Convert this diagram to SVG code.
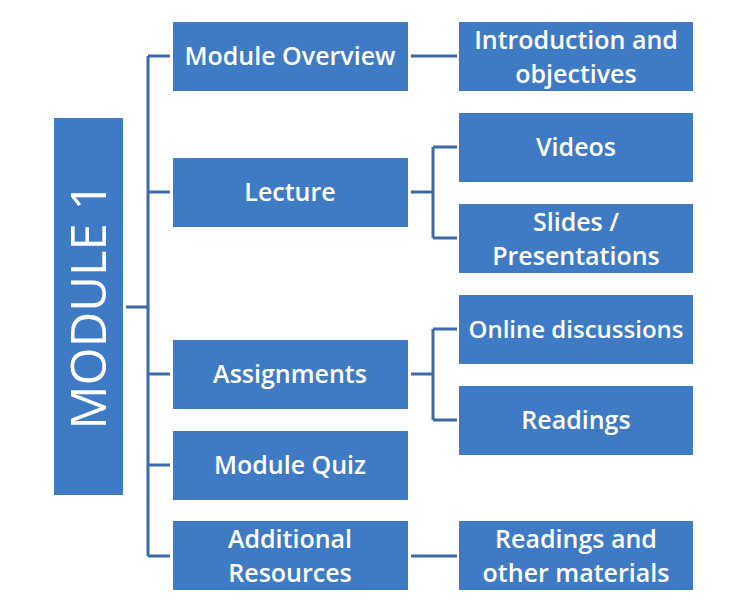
<svg xmlns="http://www.w3.org/2000/svg" width="734" height="612" viewBox="0 0 734 612">
<style>
.b{fill:#3F7BC4}
.t{fill:#fff;font-family:"Open Sans",sans-serif;font-size:25px;font-weight:600;text-anchor:middle}
.c{fill:none;stroke:#3B6AA6;stroke-width:3}
</style>
<rect width="734" height="612" fill="#fff"/>
<g id="connectors" class="c">
<path d="M126 307H148M148 56V556M148 56H170M148 192H170M148 374H170M148 465H170M148 556H170"/>
<path d="M411 56H457M411 556H457"/>
<path d="M411 192H433M433 147V238M433 147H457M433 238H457"/>
<path d="M411 374H433M433 329V420M433 329H457M433 420H457"/>
</g>
<g id="module1"><rect class="b" x="54" y="118" width="69" height="377"/><text class="t" transform="translate(106 306) rotate(-90)" style="font-size:49px;font-weight:400">MODULE 1</text></g>
<g id="overview"><rect class="b" x="173" y="22" width="235" height="69"/><text class="t" x="290" y="65">Module Overview</text></g>
<g id="lecture"><rect class="b" x="173" y="158" width="235" height="69"/><text class="t" x="290" y="201">Lecture</text></g>
<g id="assignments"><rect class="b" x="173" y="340" width="235" height="69"/><text class="t" x="290" y="383">Assignments</text></g>
<g id="quiz"><rect class="b" x="173" y="431" width="235" height="69"/><text class="t" x="290" y="474">Module Quiz</text></g>
<g id="additional"><rect class="b" x="173" y="521" width="235" height="69"/><text class="t" x="290" y="548">Additional</text><text class="t" x="290" y="582">Resources</text></g>
<g id="intro"><rect class="b" x="459" y="22" width="234" height="69"/><text class="t" x="576" y="49">Introduction and</text><text class="t" x="576" y="83">objectives</text></g>
<g id="videos"><rect class="b" x="459" y="113" width="234" height="69"/><text class="t" x="576" y="156">Videos</text></g>
<g id="slides"><rect class="b" x="459" y="204" width="234" height="69"/><text class="t" x="576" y="231">Slides /</text><text class="t" x="576" y="265">Presentations</text></g>
<g id="discussions"><rect class="b" x="459" y="295" width="234" height="69"/><text class="t" x="576" y="338" style="font-size:24px">Online discussions</text></g>
<g id="readings"><rect class="b" x="459" y="386" width="234" height="69"/><text class="t" x="576" y="429">Readings</text></g>
<g id="materials"><rect class="b" x="459" y="521" width="234" height="69"/><text class="t" x="576" y="548">Readings and</text><text class="t" x="576" y="582">other materials</text></g>
</svg>
